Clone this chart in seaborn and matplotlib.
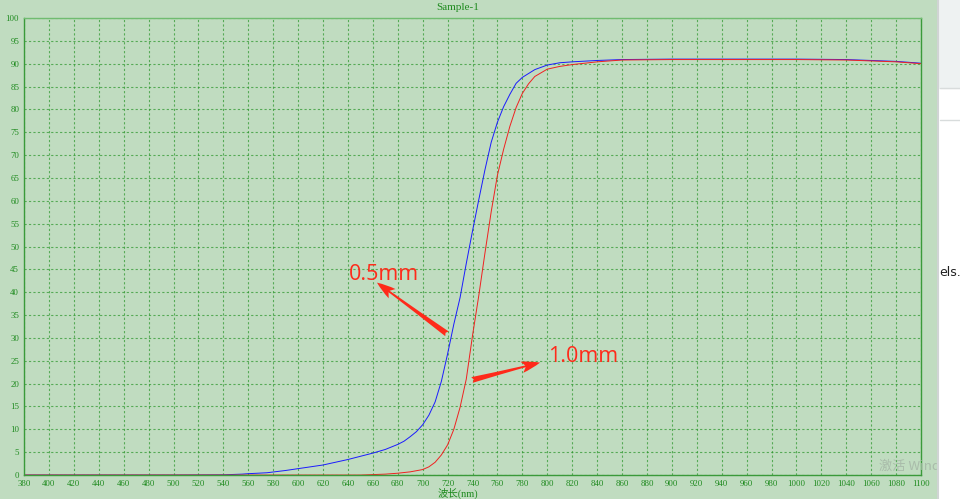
"""
Transmission curves of Sample-1 (0.5mm vs 1.0mm), redrawn from an instrument screenshot.
Saves out.png
"""

import matplotlib.pyplot as plt
import seaborn as sns
from matplotlib.patches import Rectangle

# wavelength (nm) and transmittance (%)
wl_05 = [380, 500, 540, 555, 560, 575, 590, 600, 610, 620, 630, 640, 650, 660,
         670, 680, 685, 690, 695, 700, 705, 710, 715, 720, 725, 730, 735, 740,
         745, 750, 755, 760, 765, 770, 775, 780, 790, 800, 810, 820, 840, 860,
         900, 950, 1000, 1040, 1060, 1080, 1100]
t_05 = [0, 0, 0.05, 0.2, 0.3, 0.5, 1.0, 1.4, 1.8, 2.2, 2.8, 3.4, 4.1, 4.8,
        5.6, 6.7, 7.4, 8.4, 9.5, 11.0, 13.1, 16.0, 20.5, 26.5, 33.0, 38.8,
        46.3, 53.4, 60.2, 66.8, 72.8, 77.2, 80.6, 83.3, 85.7, 87.0, 88.7,
        89.7, 90.2, 90.4, 90.7, 90.9, 91.0, 91.0, 91.0, 90.9, 90.7, 90.5, 90.1]

wl_10 = [380, 650, 660, 670, 680, 690, 700, 705, 710, 715, 720, 725, 730, 735,
         740, 745, 750, 755, 760, 765, 770, 775, 780, 785, 790, 800, 810, 820,
         830, 840, 860, 900, 950, 1000, 1040, 1060, 1080, 1100]
t_10 = [0, 0, 0.1, 0.2, 0.4, 0.7, 1.2, 1.8, 2.8, 4.4, 6.6, 10.0, 14.8, 21.0,
        30.5, 39.2, 48.6, 57.6, 65.6, 71.3, 76.3, 80.4, 83.5, 85.6, 87.2, 88.8,
        89.4, 89.8, 90.1, 90.4, 90.8, 90.9, 90.9, 90.9, 90.8, 90.6, 90.4, 90.0]

x_ticks = list(range(380, 1101, 20))
y_ticks = list(range(0, 101, 5))

BG = '#c0dcc0'
GREEN = '#1e8a1e'

sns.set_theme(style='white')
plt.rcParams['font.family'] = ['Liberation Serif', 'Noto Sans CJK SC']


def main():
    fig = plt.figure(figsize=(9.6, 4.99), dpi=100, facecolor=BG)
    ax = fig.add_axes([0.025, 0.048, 0.9344, 0.916])
    ax.set_facecolor(BG)

    sns.lineplot(x=wl_05, y=t_05, color='#1a1aff', lw=0.7, ax=ax)
    sns.lineplot(x=wl_10, y=t_10, color='#f02020', lw=0.7, ax=ax)

    ax.set_xlim(380, 1100)
    ax.set_ylim(0, 100)
    ax.set_xticks(x_ticks)
    ax.set_yticks(y_ticks)
    ax.set_xticklabels([str(v) for v in x_ticks])
    ax.set_yticklabels([str(v) for v in y_ticks])
    ax.tick_params(axis='both', labelsize=6.3, colors=GREEN, length=2,
                   width=0.6, pad=1.5)
    ax.grid(True, color='#2a962a', lw=0.8, ls=(0, (2, 2)), alpha=0.7)
    for side in ax.spines:
        ax.spines[side].set_color('#3a9a3a')
        ax.spines[side].set_linewidth(1.0)
    ax.spines['top'].set_color('#70bc70')

    # arrows + labels
    arrow = 'fancy,head_length=0.9,head_width=0.55,tail_width=0.28'
    ax.annotate('', xy=(663.3, 42.1), xytext=(719.5, 30.9),
                arrowprops=dict(arrowstyle=arrow, color='#ff2a1a', lw=0,
                                mutation_scale=15, shrinkA=0, shrinkB=0))
    ax.annotate('', xy=(794.2, 24.6), xytext=(739.6, 20.8),
                arrowprops=dict(arrowstyle=arrow, color='#ff2a1a', lw=0,
                                mutation_scale=15, shrinkA=0, shrinkB=0))
    ax.text(641, 42.6, '0.5mm', color='#ff2a1a', fontsize=15.5,
            family='Open Sans', va='baseline')
    ax.text(800.5, 24.7, '1.0mm', color='#ff2a1a', fontsize=15.5,
            family='Open Sans', va='baseline')

    fig.text(0.477, 0.984, 'Sample-1', ha='center', va='center',
             fontsize=8, color=GREEN)
    fig.text(0.477, 0.001, '波长(nm)', ha='center', va='bottom',
             fontsize=7.5, color=GREEN,
             family=['Liberation Serif', 'Noto Sans CJK SC'])

    # windows watermark at lower right (cut by the side panel)
    fig.text(0.916, 0.058, '激活 Windo', fontsize=9.5, color='#a9bcaa',
             family=['Noto Sans CJK SC', 'DejaVu Sans'], zorder=4)

    # white side panel of the screenshot
    fig.patches.append(Rectangle((938 / 960, 0), 22 / 960, 1,
                                 transform=fig.transFigure, color='white',
                                 zorder=5))
    fig.patches.append(Rectangle((938 / 960, 1 - 88 / 499), 22 / 960,
                                 88 / 499, transform=fig.transFigure,
                                 color='#eef2f2', zorder=5))
    fig.lines.append(plt.Line2D([938 / 960, 938 / 960], [0, 1],
                                transform=fig.transFigure, color='#d0d4d4',
                                lw=1.5, zorder=6))
    for py in (88, 120):
        fig.lines.append(plt.Line2D([940 / 960, 1], [1 - py / 499] * 2,
                                    transform=fig.transFigure,
                                    color='#d8dcdc', lw=1, zorder=6))
    fig.text(939 / 960, 1 - 272 / 499, 'els.', fontsize=9, color='#202020',
             va='center', family='DejaVu Sans', zorder=7)

    fig.savefig('out.png', dpi=100, facecolor=BG)


if __name__ == '__main__':
    main()
